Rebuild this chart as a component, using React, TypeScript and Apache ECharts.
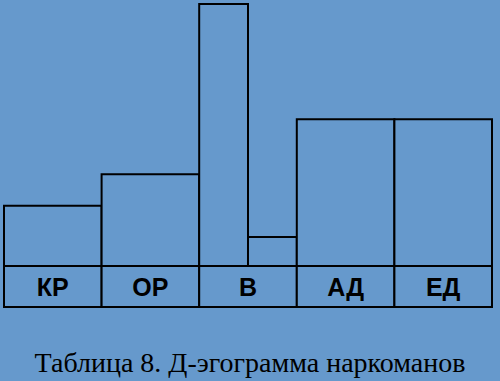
import React, { useEffect, useRef } from "react";
import * as echarts from "echarts";

const categories: string[] = ["КР", "ОР", "В", "АД", "ЕД"];
// Each category's bar value(s); "В" is split into two sub-columns
const values: number[][] = [[23], [35], [100, 11], [56], [56]];
const caption = "Таблица 8. Д-эгограмма наркоманов";

const BG = "#6699cc";

export default function App() {
  const ref = useRef<HTMLDivElement>(null);
  useEffect(() => {
    if (!ref.current) return;
    const chart = echarts.init(ref.current, undefined, { renderer: "svg" });

    const barData: number[][] = [];
    values.forEach((vals, i) => {
      const w = 1 / vals.length;
      vals.forEach((v, j) => {
        barData.push([i + j * w, i + (j + 1) * w, v]);
      });
    });
    const labelData = categories.map((c, i) => [i, i + 1, c]);
    const LABEL_MIN = -15.7;

    chart.setOption({
      animation: false,
      backgroundColor: BG,
      grid: { left: 4, right: 8, top: 4, bottom: 74 },
      xAxis: { type: "value", min: 0, max: categories.length, show: false },
      yAxis: { type: "value", min: LABEL_MIN, max: 100, show: false },
      graphic: [
        {
          type: "text",
          x: 250,
          y: 362,
          style: {
            text: caption,
            font: "28px 'Liberation Serif', 'Times New Roman', serif",
            fill: "#000",
            textAlign: "center",
            textVerticalAlign: "middle",
          },
        },
      ],
      series: [
        {
          type: "custom",
          clip: false,
          data: barData,
          renderItem: (params: any, api: any) => {
            const p0 = api.coord([api.value(0), api.value(2)]);
            const p1 = api.coord([api.value(1), 0]);
            return {
              type: "rect",
              shape: { x: p0[0], y: p0[1], width: p1[0] - p0[0], height: p1[1] - p0[1] },
              style: { fill: BG, stroke: "#000", lineWidth: 2 },
            };
          },
        },
        {
          type: "custom",
          clip: false,
          data: labelData,
          renderItem: (params: any, api: any) => {
            const p0 = api.coord([api.value(0), 0]);
            const p1 = api.coord([api.value(1), LABEL_MIN]);
            return {
              type: "group",
              children: [
                {
                  type: "rect",
                  shape: { x: p0[0], y: p0[1], width: p1[0] - p0[0], height: p1[1] - p0[1] },
                  style: { fill: BG, stroke: "#000", lineWidth: 2 },
                },
                {
                  type: "text",
                  x: (p0[0] + p1[0]) / 2,
                  y: (p0[1] + p1[1]) / 2 + 1,
                  style: {
                    text: categories[params.dataIndex],
                    font: "bold 25px 'Liberation Sans Narrow', 'Liberation Sans', Arial, sans-serif",
                    fill: "#000",
                    textAlign: "center",
                    textVerticalAlign: "middle",
                  },
                },
              ],
            };
          },
        },
      ],
    });
    return () => chart.dispose();
  }, []);
  return (
    <div
      ref={ref}
      style={{ position: "fixed", left: 0, top: 0, width: 500, height: 381, background: BG }}
    />
  );
}
